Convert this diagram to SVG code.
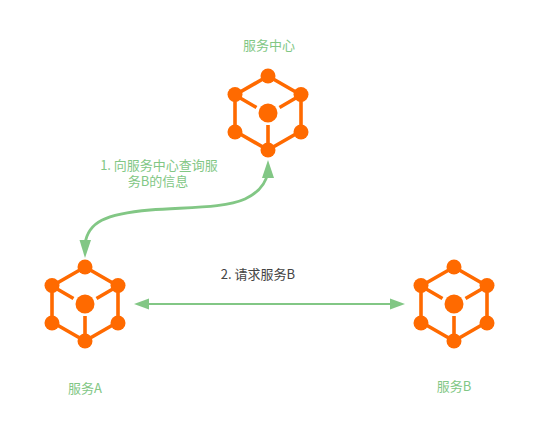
<svg xmlns="http://www.w3.org/2000/svg" width="539" height="433" viewBox="0 0 539 433">
<style>
text{font-family:"Noto Sans CJK SC","Noto Sans",sans-serif;font-size:13px;text-anchor:middle}
.g{fill:#82c785}
.d{fill:#444}
.e{stroke:#ff6a00;stroke-width:3.6;fill:none}
.n{fill:#ff6a00}
.c{stroke:#82c785;stroke-width:2;fill:none}
.t{stroke:#82c785;stroke-width:2.800;fill:none}
.h{fill:#82c785}
</style>
<defs>
<g id="cube">
<path class="e" d="M0-37L33-18V18L0 37L-33 18V-18ZM-33-18L-11.500-5.500M33-18L11.500-5.500M0 37V12"/>
<circle class="n" cx="0" cy="0" r="9.500"/>
<circle class="n" cx="0" cy="-37" r="7.500"/><circle class="n" cx="33" cy="-18.500" r="7.500"/><circle class="n" cx="33" cy="19" r="7.500"/><circle class="n" cx="0" cy="37" r="7.500"/><circle class="n" cx="-33" cy="19" r="7.500"/><circle class="n" cx="-33" cy="-18.500" r="7.500"/>
</g>
</defs>
<g id="connectors">
<path class="t" d="M85 244C88 222 105 214 150 210C190 207 225 208 245 199C260 192 266 183 268 172"/>
<path class="h" d="M268 160L274 178H262Z"/>
<path class="h" d="M85 258L79.500 240H91Z"/>
<path class="c" d="M145 304H392"/>
<path class="h" d="M134 304L149 298.500V309.500Z"/>
<path class="h" d="M405 304L390 298.500V309.500Z"/>
</g>
<g id="service-center"><use href="#cube" x="268" y="113"/><text class="g" x="269" y="50">服务中心</text></g>
<g id="service-a"><use href="#cube" x="85" y="304"/><text class="g" x="85" y="393">服务A</text></g>
<g id="service-b"><use href="#cube" x="454" y="304"/><text class="g" x="454" y="391">服务B</text></g>
<g id="labels">
<text class="g" x="159" y="170">1. 向服务中心查询服</text>
<text class="g" x="158" y="186">务B的信息</text>
<text class="d" x="258" y="279">2. 请求服务B</text>
</g>
</svg>
